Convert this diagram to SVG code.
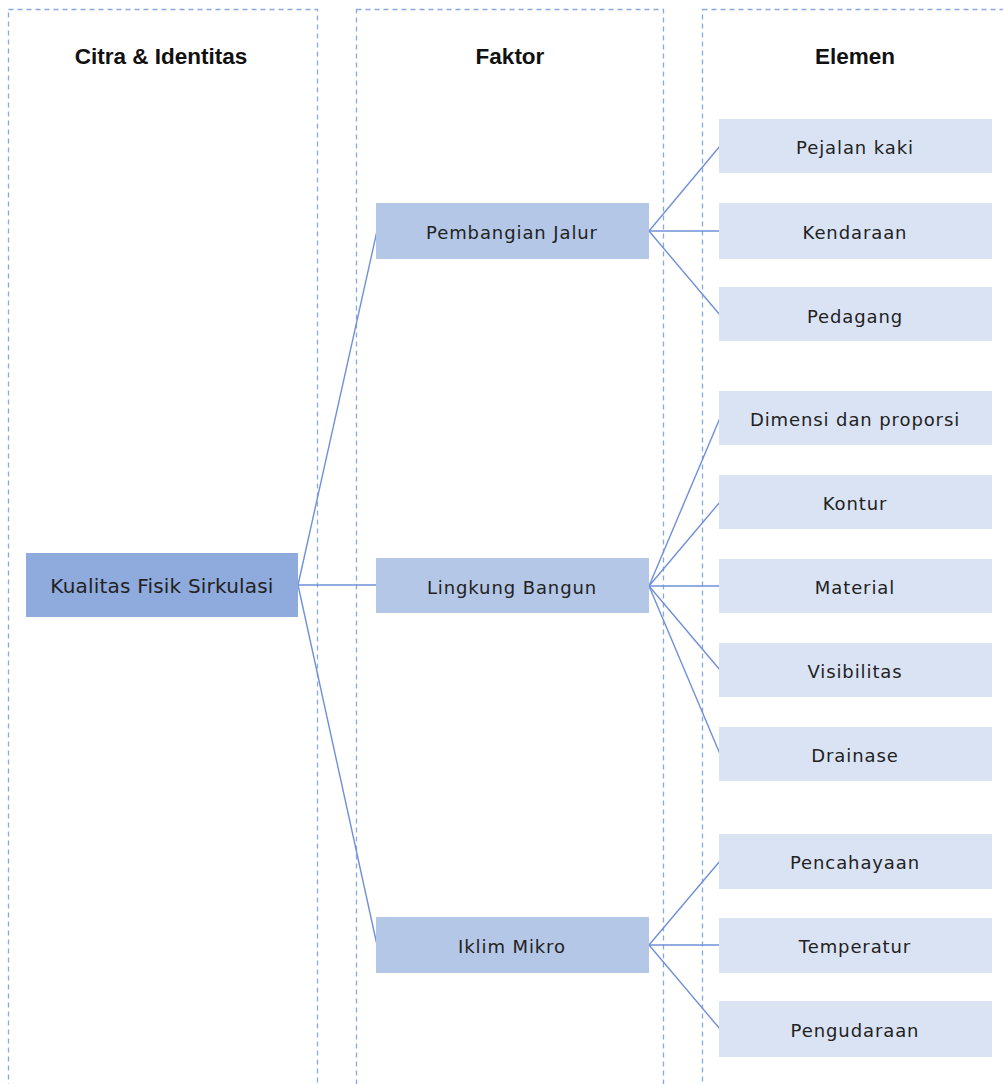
<svg xmlns="http://www.w3.org/2000/svg" width="1003" height="1084" viewBox="0 0 1003 1084">
<style>
.col{fill:none;stroke:#8AA8DE;stroke-width:1.3;stroke-dasharray:5 4}
.hd{font-family:"Liberation Sans",Arial,sans-serif;font-weight:bold;font-size:22.5px;fill:#111;text-anchor:middle}
.t{font-family:"DejaVu Sans","Liberation Sans",sans-serif;font-size:18px;fill:#222;text-anchor:middle;dominant-baseline:central;letter-spacing:0.9px}
.root{fill:#8FAADC}
.fac{fill:#B4C7E7}
.el{fill:#DAE3F3}
.cn line{stroke:#6F90D8;stroke-width:1.4}
</style>
<rect width="1003" height="1084" fill="#fff"/>
<g id="columns">
<rect class="col" x="8.5" y="9.5" width="309" height="1090"/>
<rect class="col" x="356.5" y="9.5" width="307" height="1090"/>
<rect class="col" x="702.5" y="9.5" width="310" height="1090"/>
<text class="hd" x="161" y="64">Citra &amp; Identitas</text>
<text class="hd" x="510" y="64">Faktor</text>
<text class="hd" x="855" y="64">Elemen</text>
</g>
<g id="connectors" class="cn">
<line x1="298" y1="585" x2="377" y2="231"/>
<line x1="298" y1="585" x2="377" y2="585"/>
<line x1="298" y1="585" x2="377" y2="945"/>
<line x1="649" y1="231" x2="720" y2="146"/>
<line x1="649" y1="231" x2="720" y2="231"/>
<line x1="649" y1="231" x2="720" y2="315"/>
<line x1="649" y1="586" x2="720" y2="418"/>
<line x1="649" y1="586" x2="720" y2="502"/>
<line x1="649" y1="586" x2="720" y2="586"/>
<line x1="649" y1="586" x2="720" y2="670"/>
<line x1="649" y1="586" x2="720" y2="754"/>
<line x1="649" y1="945" x2="720" y2="861"/>
<line x1="649" y1="945" x2="720" y2="945"/>
<line x1="649" y1="945" x2="720" y2="1029"/>
</g>
<g id="n-kualitas"><rect class="root" x="26" y="553" width="272" height="64"/><text class="t" x="162" y="586" style="font-size:20px;letter-spacing:0.2px">Kualitas Fisik Sirkulasi</text></g>
<g id="n-pembangian"><rect class="fac" x="376" y="203" width="273" height="56"/><text class="t" x="512" y="232">Pembangian Jalur</text></g>
<g id="n-lingkung"><rect class="fac" x="376" y="558" width="273" height="55"/><text class="t" x="512" y="587">Lingkung Bangun</text></g>
<g id="n-iklim"><rect class="fac" x="376" y="917" width="273" height="56"/><text class="t" x="512" y="946">Iklim Mikro</text></g>
<g id="n-pejalan"><rect class="el" x="719" y="119" width="273" height="54"/><text class="t" x="855" y="147">Pejalan kaki</text></g>
<g id="n-kendaraan"><rect class="el" x="719" y="203" width="273" height="56"/><text class="t" x="855" y="232">Kendaraan</text></g>
<g id="n-pedagang"><rect class="el" x="719" y="287" width="273" height="54"/><text class="t" x="855" y="316">Pedagang</text></g>
<g id="n-dimensi"><rect class="el" x="719" y="391" width="273" height="54"/><text class="t" x="855" y="419">Dimensi dan proporsi</text></g>
<g id="n-kontur"><rect class="el" x="719" y="475" width="273" height="54"/><text class="t" x="855" y="503">Kontur</text></g>
<g id="n-material"><rect class="el" x="719" y="559" width="273" height="54"/><text class="t" x="855" y="587">Material</text></g>
<g id="n-visibilitas"><rect class="el" x="719" y="643" width="273" height="54"/><text class="t" x="855" y="671">Visibilitas</text></g>
<g id="n-drainase"><rect class="el" x="719" y="727" width="273" height="54"/><text class="t" x="855" y="755">Drainase</text></g>
<g id="n-pencahayaan"><rect class="el" x="719" y="834" width="273" height="55"/><text class="t" x="855" y="862">Pencahayaan</text></g>
<g id="n-temperatur"><rect class="el" x="719" y="918" width="273" height="55"/><text class="t" x="855" y="946">Temperatur</text></g>
<g id="n-pengudaraan"><rect class="el" x="719" y="1001" width="273" height="56"/><text class="t" x="855" y="1030">Pengudaraan</text></g>
</svg>
